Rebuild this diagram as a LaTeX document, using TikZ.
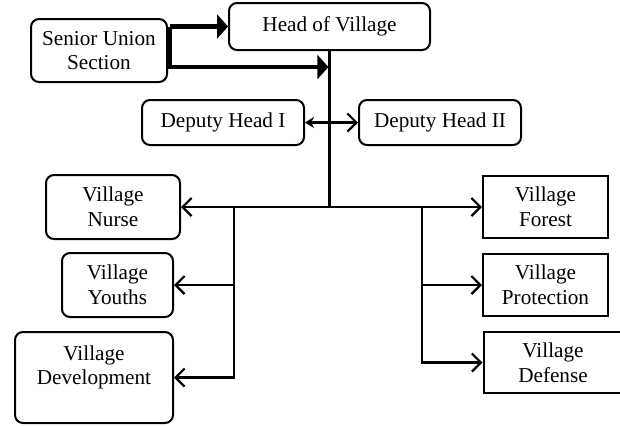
\documentclass[tikz,border=0pt]{standalone}
\usepackage{fontspec}
\setmainfont{Liberation Serif}
\usetikzlibrary{arrows.meta,positioning,calc}

\begin{document}
\begin{tikzpicture}[x=0.5pt, y=-0.5pt, >={Straight Barb[length=4.5pt,width=9pt]},
    font=\fontsize{10.6}{12.4}\selectfont,
    box/.style={draw, line width=1pt, align=center, inner sep=0pt},
    rbox/.style={box, rounded corners=4pt},
    link/.style={line width=1.1pt},
    boldlink/.style={line width=2.2pt, -{Triangle[length=5.5pt,width=12pt]}}]
  \useasboundingbox (0,0) rectangle (620,425);
  % top of the chart
  \node[rbox, minimum width=100.5pt, minimum height=23.5pt] (head) at (329.5,26.5) {Head of Village};
  \node[rbox, minimum width=68pt, minimum height=31.5pt] (senior) at (99,50.5) {Senior Union\\Section};
  \node[rbox, minimum width=81pt, minimum height=22.5pt] (deputyI) at (223,122.5) {Deputy Head I};
  \node[rbox, minimum width=81pt, minimum height=22.5pt] (deputyII) at (440,122.5) {Deputy Head II};
  % left branch
  \node[rbox, minimum width=67pt, minimum height=32pt] (nurse) at (113,207) {Village\\Nurse};
  \node[rbox, minimum width=55.5pt, minimum height=32pt] (youths) at (117.5,285) {Village\\Youths};
  \node[rbox, minimum width=79pt, minimum height=45.5pt] (develop) at (94,377.5) {Village\\Development\\\mbox{}};
  % right branch
  \node[box, minimum width=62.5pt, minimum height=31pt] (forest) at (545.5,207) {Village\\Forest};
  \node[box, minimum width=62.5pt, minimum height=31pt] (protect) at (545.5,285) {Village\\Protection};
  \node[box, minimum width=69.5pt, minimum height=30.5pt] (defense) at (553,362.5) {Village\\Defense};

  \coordinate (hub) at (head.south |- 0,207);
  \coordinate (tap) at ([xshift=-0.55pt]head.south |- 0,67);
  \coordinate (lsplit) at (234,207);
  \coordinate (rsplit) at (422,207);

  \draw[boldlink] ([xshift=1pt]senior.east |- head.west) -- (head.west);
  \draw[boldlink] ([xshift=1pt]senior.east |- head.west) |- (tap);
  \draw[link] (head.south) -- (hub);
  \draw[link, {Stealth[length=4.5pt,width=5.5pt]}-{Straight Barb[length=4.5pt,width=9pt]}] (deputyI) -- (deputyII);
  \draw[link, ->] (hub) -- (nurse);
  \draw[link, ->] (hub) -- (forest);
  \draw[link, ->] (lsplit) |- (youths);
  \draw[link, ->] (lsplit) |- (develop);
  \draw[link, ->] (rsplit) |- (protect);
  \draw[link, ->] (rsplit) |- (defense);
\end{tikzpicture}
\end{document}
